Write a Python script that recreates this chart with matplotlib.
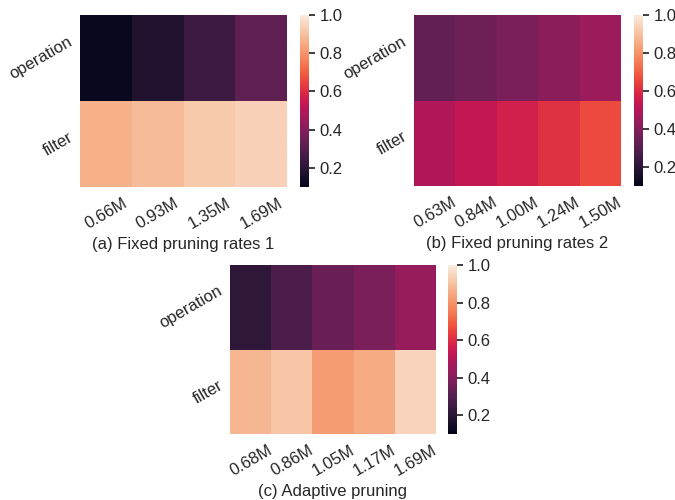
import matplotlib
matplotlib.use("Agg")
import matplotlib.pyplot as plt
import numpy as np
import seaborn as sns

sns.set_theme(style="ticks")
plt.rcParams['font.family'] = ['Liberation Sans', 'DejaVu Sans']

rows = ["operation", "filter"]

params_a = ["0.66M", "0.93M", "1.35M", "1.69M"]
operation_a = [0.12, 0.18, 0.245, 0.32]
filter_a = [0.865, 0.89, 0.92, 0.94]

params_b = ["0.63M", "0.84M", "1.00M", "1.24M", "1.50M"]
operation_b = [0.325, 0.35, 0.38, 0.415, 0.45]
filter_b = [0.49, 0.53, 0.57, 0.61, 0.66]

params_c = ["0.68M", "0.86M", "1.05M", "1.17M", "1.69M"]
operation_c = [0.21, 0.28, 0.345, 0.38, 0.44]
filter_c = [0.875, 0.91, 0.82, 0.85, 0.945]

W, H = 675, 500
fig = plt.figure(figsize=(6.75, 5), dpi=100)


def px_axes(x0, y0, x1, y1):
    return fig.add_axes([x0 / W, 1 - y1 / H, (x1 - x0) / W, (y1 - y0) / H])


panels = [
    (params_a, operation_a, filter_a, "(a) Fixed pruning rates 1", (80, 15, 287, 187), (300, 15, 309, 187)),
    (params_b, operation_b, filter_b, "(b) Fixed pruning rates 2", (414, 15, 621, 186), (634, 15, 643, 186)),
    (params_c, operation_c, filter_c, "(c) Adaptive pruning", (230, 265, 436, 434), (448, 265, 457, 434)),
]

for params, op, fl, title, hbox, cbox in panels:
    ax = px_axes(*hbox)
    cax = px_axes(*cbox)
    data = np.array([op, fl])
    sns.heatmap(data, ax=ax, cbar_ax=cax, cmap="rocket", vmin=0.1, vmax=1.0,
                xticklabels=params, yticklabels=rows)
    ax.tick_params(length=0, labelsize=12, colors="#262626")
    ax.tick_params(axis="x", pad=6)
    plt.setp(ax.get_xticklabels(), rotation=30)
    plt.setp(ax.get_yticklabels(), rotation=30, va="center")
    ax.set_xlabel(title, fontsize=12, color="#262626")
    cax.set_yticks([0.2, 0.4, 0.6, 0.8, 1.0])
    cax.tick_params(labelsize=12, colors="#262626", length=4)

fig.savefig("out.png", dpi=100)
